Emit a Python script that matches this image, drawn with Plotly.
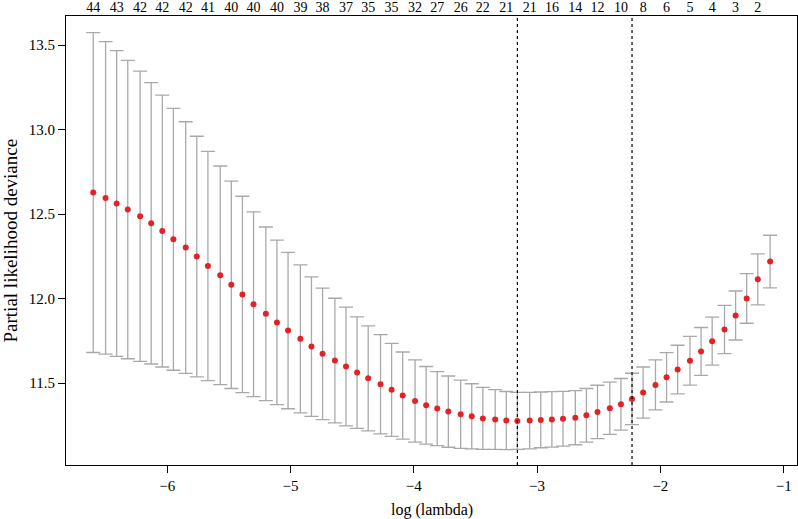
import plotly.graph_objects as go

# log(lambda) values of the CV path
log_lambda = [-6.60, -6.50, -6.41, -6.32, -6.22, -6.13, -6.04, -5.95, -5.85, -5.76,
              -5.67, -5.57, -5.48, -5.39, -5.30, -5.20, -5.11, -5.02, -4.92, -4.83,
              -4.74, -4.64, -4.55, -4.46, -4.37, -4.27, -4.18, -4.09, -3.99, -3.90,
              -3.81, -3.72, -3.62, -3.53, -3.44, -3.34, -3.25, -3.16, -3.06, -2.97,
              -2.88, -2.79, -2.69, -2.60, -2.51, -2.41, -2.32, -2.23, -2.14, -2.04,
              -1.95, -1.86, -1.76, -1.67, -1.58, -1.48, -1.39, -1.30, -1.21, -1.11]

# mean partial likelihood deviance
cvm = [12.628, 12.596, 12.563, 12.527, 12.488, 12.446, 12.400, 12.351, 12.302, 12.249,
       12.193, 12.138, 12.082, 12.025, 11.967, 11.910, 11.859, 11.811, 11.762, 11.716,
       11.673, 11.633, 11.598, 11.562, 11.528, 11.493, 11.460, 11.426, 11.394, 11.368,
       11.349, 11.331, 11.315, 11.303, 11.291, 11.284, 11.278, 11.276, 11.278, 11.282,
       11.285, 11.289, 11.295, 11.309, 11.329, 11.351, 11.374, 11.406, 11.444, 11.489,
       11.534, 11.580, 11.632, 11.687, 11.748, 11.817, 11.900, 12.001, 12.114, 12.219]

# standard error (half-width of error bars)
cvsd = [0.947, 0.925, 0.905, 0.883, 0.859, 0.833, 0.805, 0.775, 0.745, 0.712,
        0.679, 0.647, 0.614, 0.581, 0.547, 0.514, 0.487, 0.463, 0.438, 0.413,
        0.389, 0.369, 0.351, 0.330, 0.311, 0.294, 0.275, 0.258, 0.243, 0.230,
        0.219, 0.211, 0.202, 0.193, 0.184, 0.177, 0.172, 0.169, 0.167, 0.165,
        0.164, 0.162, 0.160, 0.159, 0.158, 0.155, 0.153, 0.152, 0.151, 0.148,
        0.146, 0.144, 0.144, 0.142, 0.142, 0.143, 0.145, 0.147, 0.151, 0.156]

# number of nonzero coefficients (labels shown on every other lambda)
nz_labels = [44, 43, 42, 42, 42, 41, 40, 40, 40, 39, 38, 37, 35, 35, 32,
             27, 26, 22, 21, 21, 16, 14, 12, 10, 8, 6, 5, 4, 3, 2]
nz_positions = log_lambda[0::2]

log_lambda_min = -3.16
log_lambda_1se = -2.23

x_ticks = [-6, -5, -4, -3, -2, -1]
y_ticks = [11.5, 12.0, 12.5, 13.0, 13.5]

FONT = "Liberation Serif"

fig = go.Figure()
fig.add_trace(go.Scatter(
    x=log_lambda, y=cvm, mode="markers",
    marker=dict(color="rgb(225,35,40)", size=6),
    error_y=dict(type="data", array=cvsd, visible=True,
                 color="rgb(169,169,169)", thickness=1.3, width=7),
    showlegend=False, hoverinfo="skip",
))
# invisible trace for the top axis
fig.add_trace(go.Scatter(x=[log_lambda[0]], y=[cvm[0]], xaxis="x2",
                         mode="markers", marker=dict(opacity=0),
                         showlegend=False, hoverinfo="skip"))

for v in (log_lambda_min, log_lambda_1se):
    fig.add_shape(type="line", xref="x", yref="paper", x0=v, x1=v, y0=0, y1=1,
                  line=dict(color="black", width=1.2, dash="dot"))

# axis titles as annotations for exact placement
fig.add_annotation(text="log (lambda)", xref="paper", yref="paper", x=0.5, y=0,
                   xanchor="center", yanchor="middle", yshift=-45, showarrow=False,
                   font=dict(family=FONT, size=16, color="black"))
fig.add_annotation(text="Partial likelihood deviance", xref="paper", yref="paper",
                   x=0, y=0.5, xanchor="center", yanchor="middle", xshift=-56,
                   textangle=-90, showarrow=False,
                   font=dict(family=FONT, size=19, color="black"))

xr = [-6.821, -0.892]
fig.update_layout(
    width=798, height=519,
    margin=dict(l=66, r=1, t=16, b=54),
    paper_bgcolor="white", plot_bgcolor="white",
    font=dict(family=FONT, size=14, color="black"),
    xaxis=dict(range=xr, tickvals=x_ticks, ticks="outside", ticklen=7,
               tickcolor="black", showline=True, linecolor="black", linewidth=1,
               mirror=True, showgrid=False, zeroline=False, automargin=False,
               tickfont=dict(size=15)),
    xaxis2=dict(range=xr, overlaying="x", side="top", tickvals=nz_positions,
                ticktext=[str(n) for n in nz_labels], ticks="", ticklen=0,
                showline=False, showgrid=False, zeroline=False, tickangle=0,
                automargin=False, tickfont=dict(family=FONT, size=14)),
    yaxis=dict(range=[11.015, 13.673], tickvals=y_ticks, tickformat=".1f",
               ticks="outside", ticklen=7, tickcolor="black", showline=True,
               linecolor="black", linewidth=1, mirror=True, showgrid=False,
               zeroline=False, automargin=False, tickfont=dict(size=15)),
)

fig.write_html("out.html", config={"displayModeBar": False},
               post_script="document.body.style.margin='0px';")
